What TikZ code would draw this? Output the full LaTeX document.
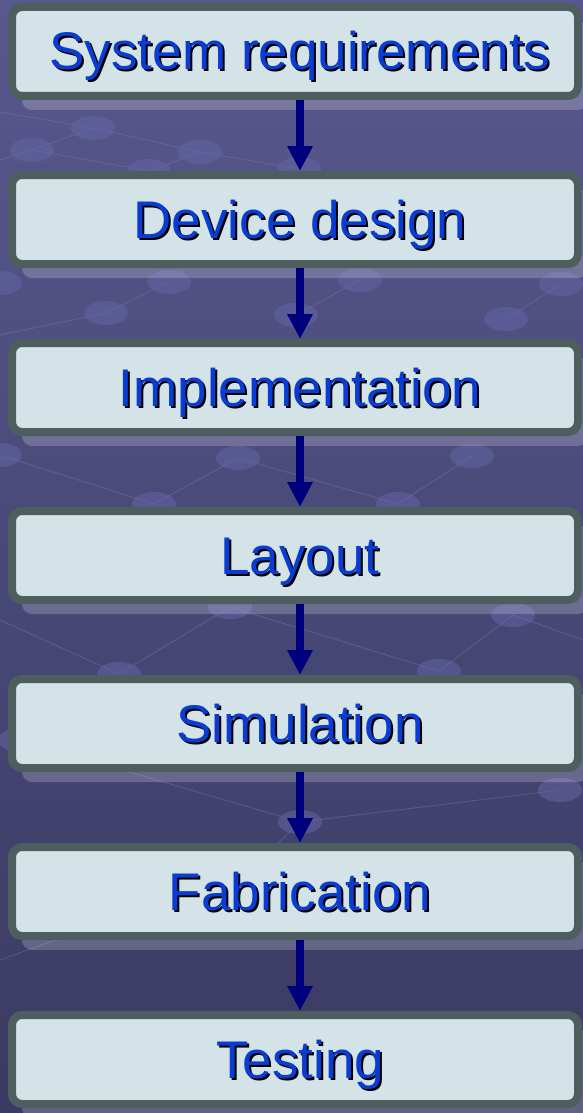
\documentclass[tikz,border=0pt]{standalone}
\usepackage{fontspec}
\setmainfont{Liberation Sans}
\usetikzlibrary{arrows.meta,shadows}

\definecolor{bgtop}{HTML}{58588F}
\definecolor{bgbottom}{HTML}{3A3A62}
\definecolor{boxfill}{HTML}{D3E3E7}
\definecolor{boxedge}{HTML}{4E5D5D}
\definecolor{stagetext}{HTML}{0B3CD2}
\definecolor{arrowblue}{HTML}{00007E}
\definecolor{dotblue}{HTML}{6464A4}
\definecolor{netline}{HTML}{7C7CB6}

% blue text with a small black drop shadow
\newcommand{\shadowed}[1]{\hspace*{10pt}\rlap{\kern2pt\raisebox{-2pt}{\color{black}#1}}#1}

\begin{document}
\begin{tikzpicture}
            [
                x=1pt, y=-1pt,
                stage/.style={rectangle, rounded corners=10pt, draw=boxedge, line width=8pt, fill=boxfill,
                    minimum width=566pt, minimum height=89pt, inner sep=0pt, text height=41pt, text depth=4pt,
                    text=stagetext, font=\fontsize{53}{60}\selectfont,
                    drop shadow={shadow xshift=10pt, shadow yshift=-14pt, fill=white, opacity=0.2}},
                flow/.style={-{Triangle[width=24pt,length=25pt]}, line width=8pt, draw=arrowblue},
                dot/.style={fill=dotblue, opacity=0.55},
                net/.style={draw=netline, line width=1pt, opacity=0.35}
            ]
            \clip (0,0) rectangle (583,1113);
            % background
            \fill[top color=bgtop, bottom color=bgbottom] (0,0) rectangle (583,1113);
            \draw[net] (0,112) -- (93,128) -- (200,152) -- (299,169);
            \draw[net] (0,160) -- (32,150) -- (93,128);
            \draw[net] (32,150) -- (149,171) -- (200,152);
            \draw[net] (169,282) -- (106,313) -- (0,335);
            \draw[net] (360,280) -- (296,315);
            \draw[net] (561,284) -- (506,319);
            \draw[net] (0,455) -- (154,504) -- (238,458) -- (398,504) -- (472,456);
            \draw[net] (0,620) -- (119,674) -- (230,607) -- (439,671) -- (513,615) -- (583,640);
            \draw[net] (0,960) -- (250,870) -- (300,822) -- (560,790);
            \draw[net] (20,740) -- (300,822);
            \foreach \p in {(93,128),(32,150),(200,152),(149,171),(299,169),(0,283),(169,282),(360,280),
                            (561,284),(106,313),(296,315),(506,319),(0,455),(238,458),(472,456),(154,504),
                            (398,504),(230,607),(513,615),(119,674),(439,671),(300,822),(560,790),(20,740),
                            (250,870)}
                \fill[dot] \p ellipse (22 and 12);
            % stages
            \node[stage] (sysreq) at (295,51.5) {\shadowed{System requirements}};
            \node[stage] (devdesign) at (295,219.5) {\shadowed{Device design}};
            \node[stage] (impl) at (295,387.5) {\shadowed{Implementation}};
            \node[stage] (layout) at (295,555.5) {\shadowed{Layout}};
            \node[stage] (sim) at (295,723.5) {\shadowed{Simulation}};
            \node[stage] (fab) at (295,891.5) {\shadowed{Fabrication}};
            \node[stage] (test) at (295,1059.5) {\shadowed{Testing}};
            % arrows
            \draw[flow] ([xshift=5pt]sysreq.south) -- ([xshift=5pt]devdesign.north);
            \draw[flow] ([xshift=5pt]devdesign.south) -- ([xshift=5pt]impl.north);
            \draw[flow] ([xshift=5pt]impl.south) -- ([xshift=5pt]layout.north);
            \draw[flow] ([xshift=5pt]layout.south) -- ([xshift=5pt]sim.north);
            \draw[flow] ([xshift=5pt]sim.south) -- ([xshift=5pt]fab.north);
            \draw[flow] ([xshift=5pt]fab.south) -- ([xshift=5pt]test.north);
        \end{tikzpicture}
\end{document}
